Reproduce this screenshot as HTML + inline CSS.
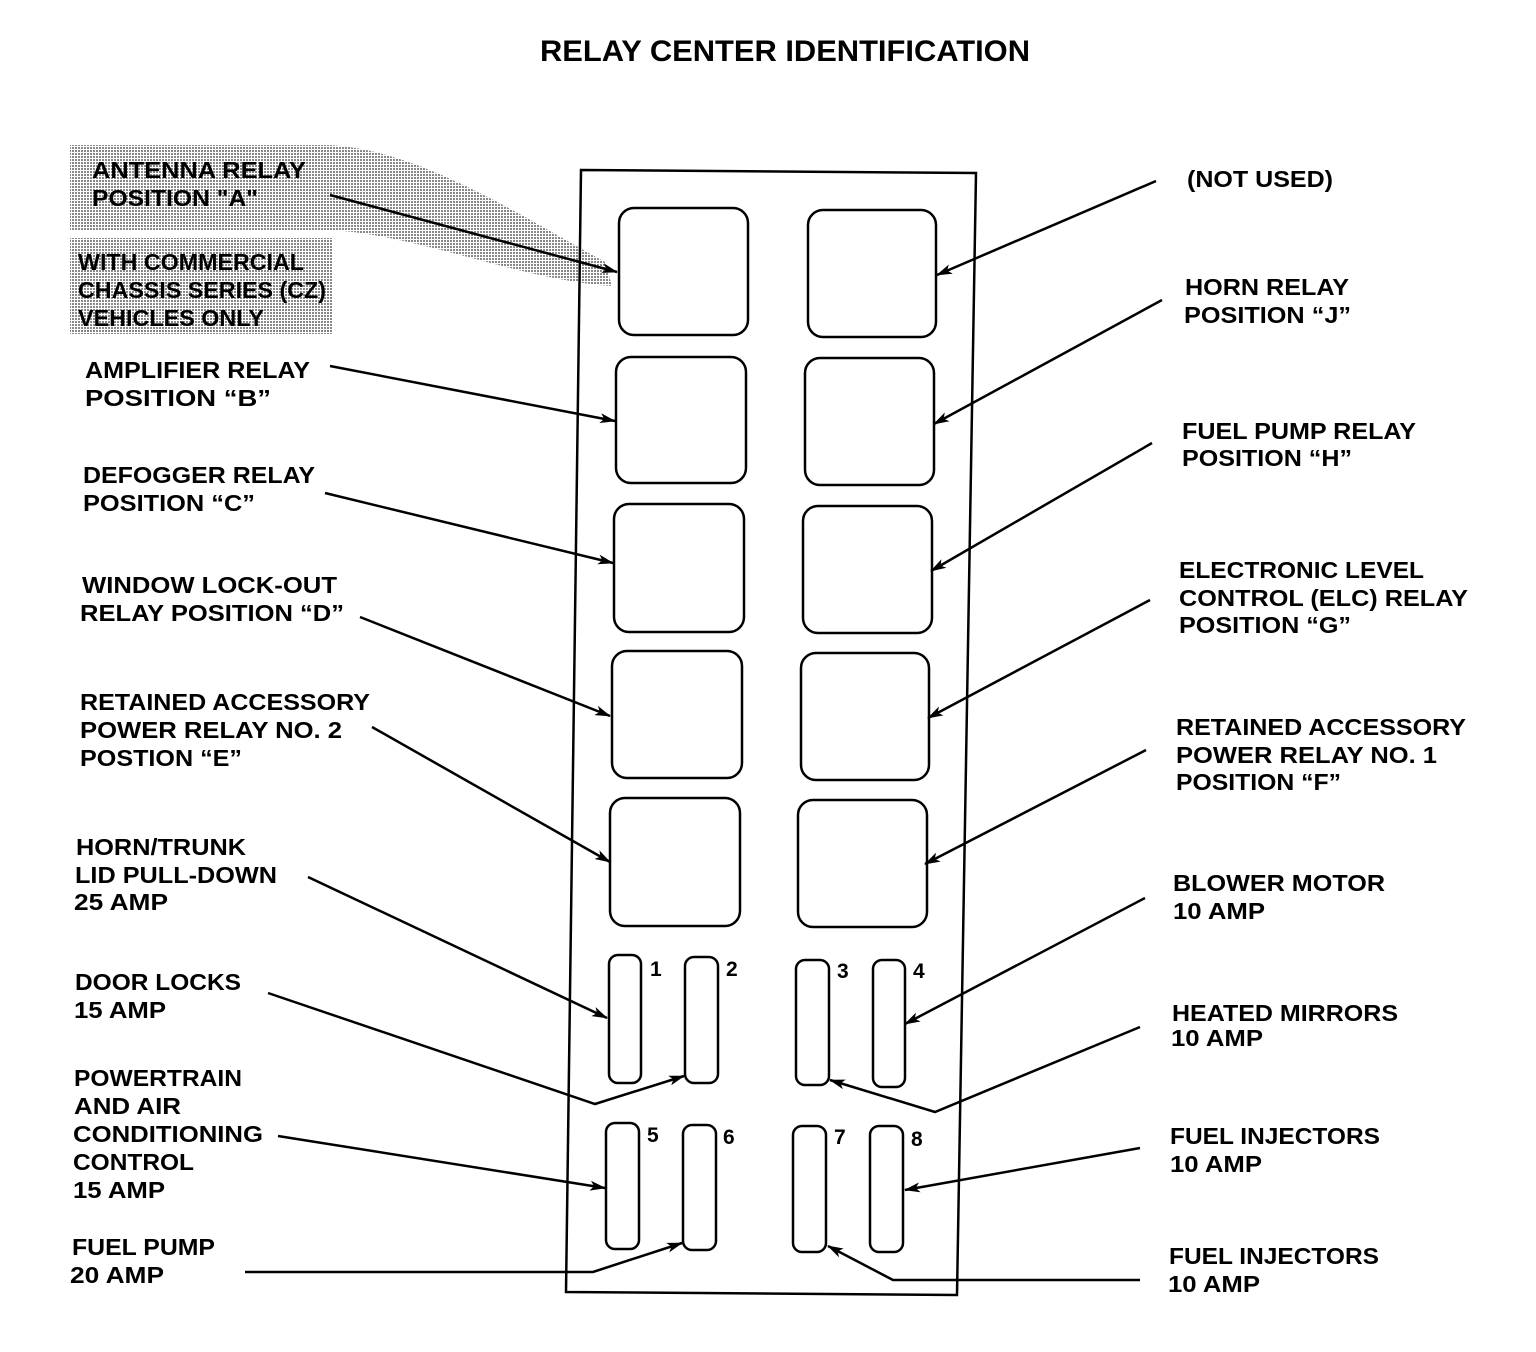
<!DOCTYPE html>
<html><head><meta charset="utf-8"><style>
html,body{margin:0;padding:0;background:#fff}
svg{display:block}
text{font-family:"Liberation Sans",sans-serif;font-weight:bold;fill:#000}
</style></head><body>
<svg width="1536" height="1352" viewBox="0 0 1536 1352" xmlns="http://www.w3.org/2000/svg">
<defs>
<pattern id="dots" width="3" height="3" patternUnits="userSpaceOnUse">
<rect width="3" height="3" fill="#fff"/><rect width="2" height="2" fill="#888"/>
</pattern>
<marker id="ah" markerWidth="16" markerHeight="10" refX="15" refY="5" orient="auto" markerUnits="userSpaceOnUse">
<path d="M0,0 L16,5 L0,10 L4,5 Z" fill="#000"/>
</marker>
</defs>
<text x="785" y="61" font-size="30" text-anchor="middle" textLength="490" lengthAdjust="spacingAndGlyphs">RELAY CENTER IDENTIFICATION</text>

<path d="M70,145 L330,145 C420,150 520,215 605,262 L612,286 C520,280 420,235 330,230 L70,230 Z" fill="url(#dots)"/>
<rect x="70" y="238" width="263" height="96" fill="url(#dots)"/>

<polygon points="581,170 976,173 957,1295 566,1292" fill="none" stroke="#000" stroke-width="2.5"/>

<g fill="none" stroke="#000" stroke-width="2.5">
<rect x="619" y="208" width="129" height="127" rx="15"/>
<rect x="616" y="357" width="130" height="126" rx="15"/>
<rect x="614" y="504" width="130" height="128" rx="15"/>
<rect x="612" y="651" width="130" height="127" rx="15"/>
<rect x="610" y="798" width="130" height="128" rx="15"/>
<rect x="808" y="210" width="128" height="127" rx="15"/>
<rect x="805" y="358" width="129" height="127" rx="15"/>
<rect x="803" y="506" width="129" height="127" rx="15"/>
<rect x="801" y="653" width="128" height="127" rx="15"/>
<rect x="798" y="800" width="129" height="127" rx="15"/>
<rect x="609" y="955" width="32" height="128" rx="9"/>
<rect x="685" y="957" width="33" height="126" rx="9"/>
<rect x="796" y="960" width="33" height="125" rx="9"/>
<rect x="873" y="960" width="32" height="127" rx="9"/>
<rect x="606" y="1123" width="33" height="126" rx="9"/>
<rect x="683" y="1125" width="33" height="125" rx="9"/>
<rect x="793" y="1126" width="33" height="126" rx="9"/>
<rect x="870" y="1126" width="33" height="126" rx="9"/>
</g>
<g font-size="21">
<text x="650" y="976">1</text><text x="726" y="976">2</text>
<text x="837" y="978">3</text><text x="913" y="978">4</text>
<text x="647" y="1142">5</text><text x="723" y="1144">6</text>
<text x="834" y="1144">7</text><text x="911" y="1146">8</text>
</g>

<g fill="none" stroke="#000" stroke-width="2.5" marker-end="url(#ah)">
<line x1="330" y1="195" x2="617" y2="272"/>
<line x1="330" y1="366" x2="615" y2="421"/>
<line x1="325" y1="493" x2="613" y2="563"/>
<line x1="360" y1="617" x2="610" y2="716"/>
<line x1="372" y1="727" x2="610" y2="862"/>
<line x1="308" y1="877" x2="607" y2="1018"/>
<polyline points="268,993 595,1104 684,1076"/>
<line x1="278" y1="1136" x2="605" y2="1188"/>
<polyline points="245,1272 593,1272 682,1243"/>
<line x1="1156" y1="181" x2="937" y2="275"/>
<line x1="1162" y1="300" x2="934" y2="424"/>
<line x1="1152" y1="443" x2="931" y2="571"/>
<line x1="1150" y1="600" x2="928" y2="718"/>
<line x1="1146" y1="750" x2="925" y2="864"/>
<line x1="1145" y1="898" x2="905" y2="1024"/>
<polyline points="1140,1027 935,1112 830,1080"/>
<line x1="1140" y1="1148" x2="905" y2="1190"/>
<polyline points="1140,1280 893,1280 828,1246"/>
</g>

<g font-size="23" lengthAdjust="spacingAndGlyphs">
<text x="92" y="178" textLength="214" lengthAdjust="spacingAndGlyphs">ANTENNA RELAY</text>
<text x="92" y="206" textLength="166" lengthAdjust="spacingAndGlyphs">POSITION "A"</text>
<text x="78" y="270" font-weight="normal" textLength="226" lengthAdjust="spacingAndGlyphs">WITH COMMERCIAL</text>
<text x="78" y="298" font-weight="normal" textLength="248" lengthAdjust="spacingAndGlyphs">CHASSIS SERIES (CZ)</text>
<text x="78" y="326" font-weight="normal" textLength="186" lengthAdjust="spacingAndGlyphs">VEHICLES ONLY</text>
<text x="85" y="378" textLength="225" lengthAdjust="spacingAndGlyphs">AMPLIFIER RELAY</text>
<text x="85" y="406" textLength="186" lengthAdjust="spacingAndGlyphs">POSITION “B”</text>
<text x="83" y="483" textLength="232" lengthAdjust="spacingAndGlyphs">DEFOGGER RELAY</text>
<text x="83" y="511" textLength="172" lengthAdjust="spacingAndGlyphs">POSITION “C”</text>
<text x="82" y="593" textLength="255" lengthAdjust="spacingAndGlyphs">WINDOW LOCK-OUT</text>
<text x="80" y="621" textLength="264" lengthAdjust="spacingAndGlyphs">RELAY POSITION “D”</text>
<text x="80" y="710" textLength="290" lengthAdjust="spacingAndGlyphs">RETAINED ACCESSORY</text>
<text x="80" y="738" textLength="262" lengthAdjust="spacingAndGlyphs">POWER RELAY NO. 2</text>
<text x="80" y="766" textLength="162" lengthAdjust="spacingAndGlyphs">POSTION “E”</text>
<text x="76" y="855" textLength="170" lengthAdjust="spacingAndGlyphs">HORN/TRUNK</text>
<text x="75" y="883" textLength="202" lengthAdjust="spacingAndGlyphs">LID PULL-DOWN</text>
<text x="74" y="910" textLength="94" lengthAdjust="spacingAndGlyphs">25 AMP</text>
<text x="75" y="990" textLength="166" lengthAdjust="spacingAndGlyphs">DOOR LOCKS</text>
<text x="74" y="1018" textLength="92" lengthAdjust="spacingAndGlyphs">15 AMP</text>
<text x="74" y="1086" textLength="168" lengthAdjust="spacingAndGlyphs">POWERTRAIN</text>
<text x="74" y="1114" textLength="107" lengthAdjust="spacingAndGlyphs">AND AIR</text>
<text x="73" y="1142" textLength="190" lengthAdjust="spacingAndGlyphs">CONDITIONING</text>
<text x="73" y="1170" textLength="121" lengthAdjust="spacingAndGlyphs">CONTROL</text>
<text x="73" y="1198" textLength="92" lengthAdjust="spacingAndGlyphs">15 AMP</text>
<text x="72" y="1255" textLength="143" lengthAdjust="spacingAndGlyphs">FUEL PUMP</text>
<text x="70" y="1283" textLength="94" lengthAdjust="spacingAndGlyphs">20 AMP</text>

<text x="1187" y="187" textLength="146" lengthAdjust="spacingAndGlyphs">(NOT USED)</text>
<text x="1185" y="295" textLength="164" lengthAdjust="spacingAndGlyphs">HORN RELAY</text>
<text x="1184" y="323" textLength="167" lengthAdjust="spacingAndGlyphs">POSITION “J”</text>
<text x="1182" y="439" textLength="234" lengthAdjust="spacingAndGlyphs">FUEL PUMP RELAY</text>
<text x="1182" y="466" textLength="170" lengthAdjust="spacingAndGlyphs">POSITION “H”</text>
<text x="1179" y="578" textLength="245" lengthAdjust="spacingAndGlyphs">ELECTRONIC LEVEL</text>
<text x="1179" y="606" textLength="289" lengthAdjust="spacingAndGlyphs">CONTROL (ELC) RELAY</text>
<text x="1179" y="633" textLength="172" lengthAdjust="spacingAndGlyphs">POSITION “G”</text>
<text x="1176" y="735" textLength="290" lengthAdjust="spacingAndGlyphs">RETAINED ACCESSORY</text>
<text x="1176" y="763" textLength="261" lengthAdjust="spacingAndGlyphs">POWER RELAY NO. 1</text>
<text x="1176" y="790" textLength="165" lengthAdjust="spacingAndGlyphs">POSITION “F”</text>
<text x="1173" y="891" textLength="212" lengthAdjust="spacingAndGlyphs">BLOWER MOTOR</text>
<text x="1173" y="919" textLength="92" lengthAdjust="spacingAndGlyphs">10 AMP</text>
<text x="1172" y="1021" textLength="226" lengthAdjust="spacingAndGlyphs">HEATED MIRRORS</text>
<text x="1171" y="1046" textLength="92" lengthAdjust="spacingAndGlyphs">10 AMP</text>
<text x="1170" y="1144" textLength="210" lengthAdjust="spacingAndGlyphs">FUEL INJECTORS</text>
<text x="1170" y="1172" textLength="92" lengthAdjust="spacingAndGlyphs">10 AMP</text>
<text x="1169" y="1264" textLength="210" lengthAdjust="spacingAndGlyphs">FUEL INJECTORS</text>
<text x="1168" y="1292" textLength="92" lengthAdjust="spacingAndGlyphs">10 AMP</text>
</g>
</svg>
</body></html>
